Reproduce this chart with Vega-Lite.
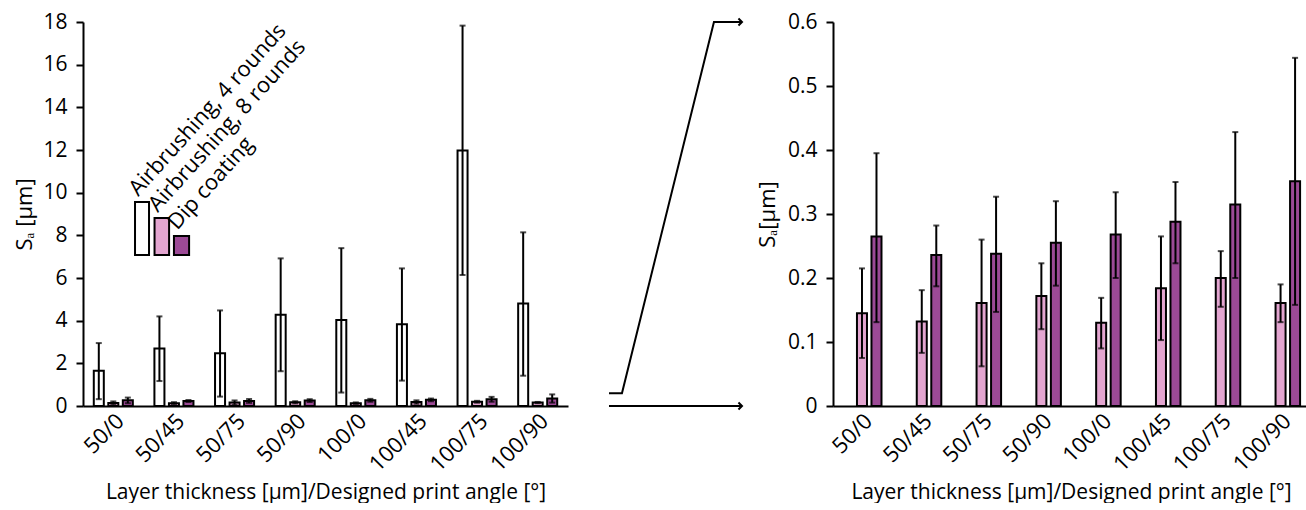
{
  "$schema": "https://vega.github.io/schema/vega-lite/v6.json",
  "background": "white",
  "padding": {"left": 13, "top": 11, "right": 0, "bottom": 0},
  "spacing": 10,
  "config": {
    "font": "Open Sans",
    "view": {"stroke": null},
    "axis": {
      "domainColor": "black", "domainWidth": 2, "tickColor": "black", "tickWidth": 2,
      "labelColor": "black", "titleColor": "black", "labelFontSize": 21, "titleFontSize": 21,
      "titleFontWeight": "normal", "grid": false, "labelFont": "Open Sans", "titleFont": "Open Sans"
    }
  },
  "datasets": {
    "bars": [
      {"grp": "50/0", "series": "Airbrushing, 4 rounds", "value": 1.65, "lo": 0.32, "hi": 2.95},
      {"grp": "50/0", "series": "Airbrushing, 8 rounds", "value": 0.145, "lo": 0.075, "hi": 0.215},
      {"grp": "50/0", "series": "Dip coating", "value": 0.265, "lo": 0.131, "hi": 0.395},
      {"grp": "50/45", "series": "Airbrushing, 4 rounds", "value": 2.70, "lo": 1.17, "hi": 4.20},
      {"grp": "50/45", "series": "Airbrushing, 8 rounds", "value": 0.132, "lo": 0.083, "hi": 0.181},
      {"grp": "50/45", "series": "Dip coating", "value": 0.236, "lo": 0.187, "hi": 0.282},
      {"grp": "50/75", "series": "Airbrushing, 4 rounds", "value": 2.47, "lo": 0.44, "hi": 4.48},
      {"grp": "50/75", "series": "Airbrushing, 8 rounds", "value": 0.161, "lo": 0.062, "hi": 0.26},
      {"grp": "50/75", "series": "Dip coating", "value": 0.238, "lo": 0.147, "hi": 0.327},
      {"grp": "50/90", "series": "Airbrushing, 4 rounds", "value": 4.28, "lo": 1.63, "hi": 6.92},
      {"grp": "50/90", "series": "Airbrushing, 8 rounds", "value": 0.172, "lo": 0.12, "hi": 0.223},
      {"grp": "50/90", "series": "Dip coating", "value": 0.255, "lo": 0.188, "hi": 0.32},
      {"grp": "100/0", "series": "Airbrushing, 4 rounds", "value": 4.03, "lo": 0.63, "hi": 7.40},
      {"grp": "100/0", "series": "Airbrushing, 8 rounds", "value": 0.130, "lo": 0.09, "hi": 0.169},
      {"grp": "100/0", "series": "Dip coating", "value": 0.268, "lo": 0.2, "hi": 0.334},
      {"grp": "100/45", "series": "Airbrushing, 4 rounds", "value": 3.83, "lo": 1.19, "hi": 6.45},
      {"grp": "100/45", "series": "Airbrushing, 8 rounds", "value": 0.184, "lo": 0.103, "hi": 0.265},
      {"grp": "100/45", "series": "Dip coating", "value": 0.288, "lo": 0.223, "hi": 0.35},
      {"grp": "100/75", "series": "Airbrushing, 4 rounds", "value": 11.98, "lo": 6.14, "hi": 17.83},
      {"grp": "100/75", "series": "Airbrushing, 8 rounds", "value": 0.200, "lo": 0.155, "hi": 0.242},
      {"grp": "100/75", "series": "Dip coating", "value": 0.315, "lo": 0.2, "hi": 0.428},
      {"grp": "100/90", "series": "Airbrushing, 4 rounds", "value": 4.80, "lo": 1.42, "hi": 8.14},
      {"grp": "100/90", "series": "Airbrushing, 8 rounds", "value": 0.161, "lo": 0.131, "hi": 0.19},
      {"grp": "100/90", "series": "Dip coating", "value": 0.351, "lo": 0.158, "hi": 0.544}
    ],
    "legend": [
      {"series": "Airbrushing, 4 rounds", "lx": 0.858, "lx2": 1.089, "top": 9.56, "base": 7.08},
      {"series": "Airbrushing, 8 rounds", "lx": 1.18, "lx2": 1.42, "top": 8.81, "base": 7.08},
      {"series": "Dip coating", "lx": 1.50, "lx2": 1.75, "top": 7.97, "base": 7.08}
    ],
    "conn": [
      {"path": "zoom", "seq": 1, "cx": 0.189, "cy": 0.6},
      {"path": "zoom", "seq": 2, "cx": 0.268, "cy": 0.6},
      {"path": "zoom", "seq": 3, "cx": 0.829, "cy": 18},
      {"path": "zoom", "seq": 4, "cx": 1.0, "cy": 18},
      {"path": "base", "seq": 1, "cx": 0.189, "cy": 0},
      {"path": "base", "seq": 2, "cx": 1.0, "cy": 0}
    ]
  },
  "hconcat": [
    {
      "width": 485, "height": 384,
      "layer": [
        {
          "data": {"name": "bars"},
          "encoding": {
            "x": {"field": "grp", "type": "nominal", "sort": ["50/0","50/45","50/75","50/90","100/0","100/45","100/75","100/90"],
                  "scale": {"paddingInner": 0.356, "paddingOuter": 0.178},
                  "axis": {"title": "Layer thickness [µm]/Designed print angle [°]", "labelAngle": -45, "labelFontSize": 22, "ticks": false, "labelPadding": 4, "titlePadding": 6}},
            "xOffset": {"field": "series", "type": "nominal",
                  "scale": {"domain": ["Airbrushing, 4 rounds","Airbrushing, 8 rounds","Dip coating"], "paddingInner": 0.31, "paddingOuter": 0}}
          },
          "layer": [
            {"mark": {"type": "bar", "stroke": "black", "strokeWidth": 2},
             "encoding": {
               "y": {"field": "value", "type": "quantitative", "scale": {"domain": [0, 18], "nice": false},
                     "axis": {"title": "Sₐ [µm]", "titleFontSize": 22, "values": [0,2,4,6,8,10,12,14,16,18], "tickSize": 7, "labelPadding": 9, "titlePadding": 6}},
               "fill": {"field": "series", "type": "nominal", "scale": {"domain": ["Airbrushing, 4 rounds","Airbrushing, 8 rounds","Dip coating"], "range": ["#ffffff", "#e3a5d0", "#9c4a96"]}, "legend": null}
             }},
            {"mark": {"type": "rule", "color": "black", "strokeWidth": 2},
             "encoding": {"y": {"field": "lo", "type": "quantitative"}, "y2": {"field": "hi"}}},
            {"mark": {"type": "tick", "color": "black", "thickness": 2, "size": 6},
             "encoding": {"y": {"field": "hi", "type": "quantitative"}}},
            {"mark": {"type": "tick", "color": "black", "thickness": 2, "size": 6},
             "encoding": {"y": {"field": "lo", "type": "quantitative"}}}
          ]
        },
        {
          "data": {"name": "legend"},
          "encoding": {
            "x": {"field": "lx", "type": "quantitative", "scale": {"domain": [0, 8], "nice": false, "zero": false}, "axis": null}
          },
          "layer": [
            {"mark": {"type": "bar", "stroke": "black", "strokeWidth": 2},
             "encoding": {
               "x2": {"field": "lx2"},
               "y": {"field": "top", "type": "quantitative"},
               "y2": {"field": "base"},
               "fill": {"field": "series", "type": "nominal", "legend": null}
             }},
            {"mark": {"type": "text", "angle": -48, "align": "left", "baseline": "alphabetic", "fontSize": 22, "dx": 6, "dy": -1, "color": "black"},
             "encoding": {
               "y": {"field": "top", "type": "quantitative"},
               "text": {"field": "series"}
             }}
          ]
        }
      ],
      "resolve": {"scale": {"x": "independent"}}
    },
    {
      "width": 164, "height": 384,
      "data": {"name": "conn"},
      "encoding": {
        "x": {"field": "cx", "type": "quantitative", "scale": {"domain": [0, 1], "nice": false}, "axis": null},
        "y": {"field": "cy", "type": "quantitative", "scale": {"domain": [0, 18], "nice": false}, "axis": null}
      },
      "layer": [
        {"mark": {"type": "line", "color": "black", "strokeWidth": 2},
         "encoding": {"detail": {"field": "path"}, "order": {"field": "seq"}}},
        {"transform": [{"filter": "datum.cx == 1"}],
         "mark": {"type": "point", "shape": "M-1,-1L0,0L-1,1", "filled": false, "stroke": "black", "strokeWidth": 2, "size": 50, "opacity": 1},
         "encoding": {}}
      ]
    },
    {
      "width": 476, "height": 384,
      "data": {"name": "bars"},
      "transform": [{"filter": "datum.series != 'Airbrushing, 4 rounds'"}],
      "encoding": {
        "x": {"field": "grp", "type": "nominal", "sort": ["50/0","50/45","50/75","50/90","100/0","100/45","100/75","100/90"],
              "scale": {"paddingInner": 0.356, "paddingOuter": 0.158, "align": 0.5},
              "axis": {"title": "Layer thickness [µm]/Designed print angle [°]", "labelAngle": -45, "labelFontSize": 22, "ticks": false, "labelPadding": 4, "titlePadding": 6}},
        "xOffset": {"field": "series", "type": "nominal",
              "scale": {"domain": ["Airbrushing, 4 rounds","Airbrushing, 8 rounds","Dip coating"], "paddingInner": 0.31, "paddingOuter": 0}}
      },
      "layer": [
        {"mark": {"type": "bar", "stroke": "black", "strokeWidth": 2},
         "encoding": {
           "y": {"field": "value", "type": "quantitative", "scale": {"domain": [0, 0.6], "nice": false},
                 "axis": {"title": "Sₐ[µm]", "titleFontSize": 22, "values": [0,0.1,0.2,0.3,0.4,0.5,0.6], "labelExpr": "datum.value == 0 ? '0' : format(datum.value, '.1f')", "tickSize": 7, "labelPadding": 9, "titlePadding": 8}},
           "fill": {"field": "series", "type": "nominal", "scale": {"domain": ["Airbrushing, 4 rounds","Airbrushing, 8 rounds","Dip coating"], "range": ["#ffffff", "#e3a5d0", "#9c4a96"]}, "legend": null}
         }},
        {"mark": {"type": "rule", "color": "black", "strokeWidth": 2},
         "encoding": {"y": {"field": "lo", "type": "quantitative"}, "y2": {"field": "hi"}}},
        {"mark": {"type": "tick", "color": "black", "thickness": 2, "size": 6},
         "encoding": {"y": {"field": "hi", "type": "quantitative"}}},
        {"mark": {"type": "tick", "color": "black", "thickness": 2, "size": 6},
         "encoding": {"y": {"field": "lo", "type": "quantitative"}}}
      ]
    }
  ]
}
